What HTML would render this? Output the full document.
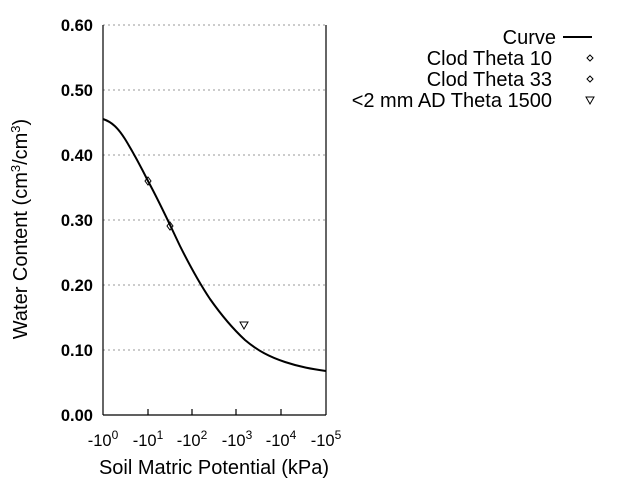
<!DOCTYPE html>
<html><head><style>body{margin:0;background:#fff}</style></head><body>
<svg width="640" height="480" xmlns="http://www.w3.org/2000/svg" font-family="Liberation Sans, sans-serif">
<g stroke="#999" stroke-dasharray="2,3" stroke-width="1">
<line x1="103" y1="25" x2="326" y2="25"/><line x1="103" y1="90" x2="326" y2="90"/><line x1="103" y1="155" x2="326" y2="155"/><line x1="103" y1="220" x2="326" y2="220"/><line x1="103" y1="285" x2="326" y2="285"/><line x1="103" y1="350" x2="326" y2="350"/>
</g>
<g stroke="#000" stroke-width="1.2" fill="none">
<line x1="103" y1="25" x2="103" y2="415"/><line x1="103" y1="415" x2="326" y2="415"/><line x1="326" y1="25" x2="326" y2="415"/>
<line x1="148" y1="415" x2="148" y2="409"/><line x1="192" y1="415" x2="192" y2="409"/><line x1="236" y1="415" x2="236" y2="409"/><line x1="281" y1="415" x2="281" y2="409"/>
</g>
<g font-size="16.5" font-weight="bold" text-anchor="end">
<text x="93" y="31">0.60</text><text x="93" y="96">0.50</text><text x="93" y="161">0.40</text><text x="93" y="226">0.30</text><text x="93" y="291">0.20</text><text x="93" y="356">0.10</text><text x="93" y="421">0.00</text>
</g>
<g font-size="16.5" text-anchor="middle">
<text x="103" y="446">-10<tspan dy="-7" font-size="12">0</tspan></text>
<text x="148" y="446">-10<tspan dy="-7" font-size="12">1</tspan></text>
<text x="192" y="446">-10<tspan dy="-7" font-size="12">2</tspan></text>
<text x="237" y="446">-10<tspan dy="-7" font-size="12">3</tspan></text>
<text x="281" y="446">-10<tspan dy="-7" font-size="12">4</tspan></text>
<text x="326" y="446">-10<tspan dy="-7" font-size="12">5</tspan></text>
</g>
<text x="214" y="474" font-size="20" text-anchor="middle">Soil Matric Potential (kPa)</text>
<text transform="translate(27,229) rotate(-90)" font-size="20" text-anchor="middle">Water Content (cm<tspan dy="-7" font-size="13">3</tspan><tspan dy="7">/cm</tspan><tspan dy="-7" font-size="13">3</tspan><tspan dy="7">)</tspan></text>
<path fill="none" stroke="#000" stroke-width="2" d="M103,119 C112,122 118,128 125,139 C133,152 140,165 148,181 C160,203 170,225 180,246 C192,270 200,284 210,299 C222,316 232,328 245,340 C258,351 270,357 285,362 C300,367 312,369 326,371"/>
<g fill="none" stroke="#000" stroke-width="1">
<polygon points="148,177 151,181 148,185 145,181"/>
<polygon points="170,222 173,226 170,230 167,226"/>
<polygon points="240,322 248,322 244,329"/>
<polygon points="590,55 593,58 590,61 587,58"/>
<polygon points="590,76 593,79 590,82 587,79"/>
<polygon points="586,97 594,97 590,104"/>
</g>
<line x1="563" y1="37" x2="592" y2="37" stroke="#000" stroke-width="2"/>
<g font-size="20" text-anchor="end">
<text x="556" y="44">Curve</text><text x="552" y="65">Clod Theta 10</text><text x="552" y="86">Clod Theta 33</text><text x="552" y="107">&lt;2 mm AD Theta 1500</text>
</g>
</svg>
</body></html>
